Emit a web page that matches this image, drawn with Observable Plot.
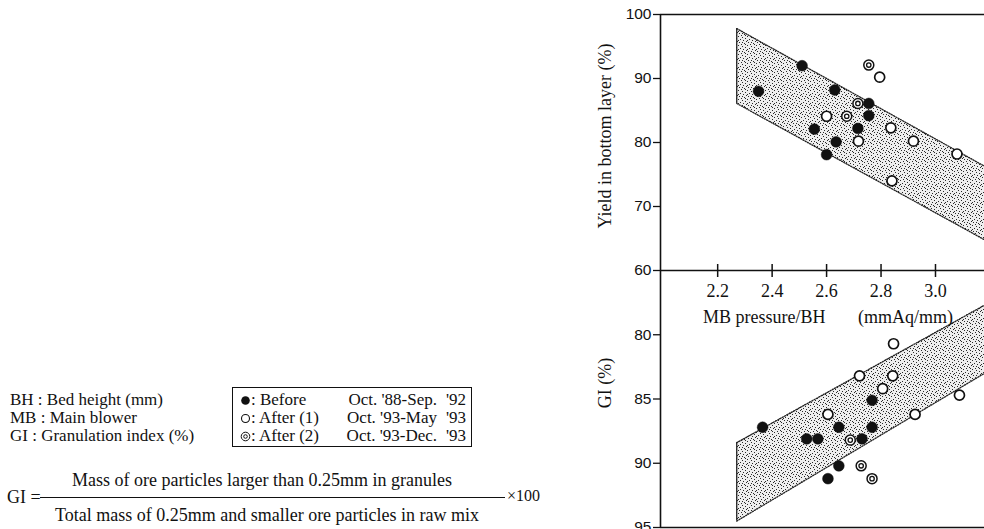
<!DOCTYPE html>
<html><head><meta charset="utf-8">
<script src="https://cdn.jsdelivr.net/npm/d3@7"></script>
<script src="https://cdn.jsdelivr.net/npm/@observablehq/plot@0.6"></script>
<style>
body{margin:0;background:#fff;}
#wrap{position:relative;width:984px;height:529px;overflow:hidden;font-family:"Liberation Serif","DejaVu Serif",serif;color:#111;}
#wrap > svg{position:absolute;left:0;top:0;background:transparent;overflow:hidden;}
.t{position:absolute;white-space:pre;font-size:17px;line-height:18px;font-family:"Liberation Serif","DejaVu Serif",serif;}
.box{position:absolute;border:1.5px solid #111;box-sizing:border-box;}
.sym{position:absolute;}
</style></head><body><div id="wrap"></div>
<script>
// ---- data ----
const xTicks = [2.2, 2.4, 2.6, 2.8, 3.0];
const yieldTicks = [60, 70, 80, 90, 100];
const giTicks = [80, 85, 90, 95];
const xDomain = [1.99, 3.18];

// Yield in bottom layer (%) vs MB pressure/BH
const yieldBefore = [[2.35,88.0],[2.51,92.0],[2.63,88.2],[2.755,86.1],[2.755,84.2],[2.555,82.1],[2.715,82.2],[2.635,80.1],[2.60,78.1]];
const yieldAfter1 = [[2.795,90.2],[2.60,84.1],[2.717,80.2],[2.836,82.3],[2.919,80.2],[3.079,78.2],[2.840,74.0]];
const yieldAfter2 = [[2.755,92.1],[2.715,86.1],[2.674,84.1]];
const yieldBandX = [2.27, 3.18];
const yieldBandHi = [97.8, 76.3];
const yieldBandLo = [86.1, 64.8];

// GI (%) vs MB pressure/BH
const giBefore = [[2.365,87.2],[2.527,88.1],[2.568,88.1],[2.645,87.2],[2.730,88.1],[2.767,85.1],[2.767,87.2],[2.645,90.2],[2.605,91.2]];
const giAfter1 = [[2.846,80.7],[2.721,83.2],[2.843,83.2],[2.806,84.2],[3.088,84.7],[2.605,86.2],[2.925,86.2]];
const giAfter2 = [[2.687,88.2],[2.727,90.2],[2.767,91.2]];
const giBandX = [2.27, 3.18];
const giBandHi = [88.4, 77.7];
const giBandLo = [94.5, 83.0];

const legendKinds = ["filled", "open", "double"];
const legendLabels = [": Before", ": After (1)", ": After (2)"];
const legendPeriods = ["Oct. '88-Sep.", "Oct. '93-May", "Oct. '93-Dec."];
const legendYears = ["'92", "'93", "'93"];
const defs = ["BH : Bed height (mm)", "MB : Main blower", "GI : Granulation index (%)"];

// ---- build ----
const toPts = a => a.map(([x, y]) => ({x, y}));
const band = (xs, hi, lo) => xs.map((x, i) => ({x, hi: hi[i], lo: lo[i]}));
const ink = "#111";
const serif = "Liberation Serif";

function stipple(svg, id) {
  const ns = "http://www.w3.org/2000/svg";
  const d = document.createElementNS(ns, "defs");
  const p = document.createElementNS(ns, "pattern");
  p.setAttribute("id", id); p.setAttribute("width", 9); p.setAttribute("height", 9);
  p.setAttribute("patternUnits", "userSpaceOnUse");
  const bg = document.createElementNS(ns, "rect");
  bg.setAttribute("width", 9); bg.setAttribute("height", 9); bg.setAttribute("fill", "#eeeeee");
  p.appendChild(bg);
  [[0,0],[4,1],[7,2],[2,3],[5,4],[8,5],[1,6],[6,7],[3,8],[7,8],[0,4],[4,6]].forEach(([a, b]) => {
    const r = document.createElementNS(ns, "rect");
    r.setAttribute("x", a); r.setAttribute("y", b); r.setAttribute("width", 1); r.setAttribute("height", 1);
    r.setAttribute("fill", "#2a2a2a");
    p.appendChild(r);
  });
  d.appendChild(p);
  svg.insertBefore(d, svg.firstChild);
}

function markers(before, after1, after2) {
  return [
    Plot.dot(toPts(before), {x: "x", y: "y", r: 5.4, fill: ink, stroke: ink, strokeWidth: 0.5}),
    Plot.dot(toPts(after1), {x: "x", y: "y", r: 5, fill: "white", stroke: ink, strokeWidth: 1.7}),
    Plot.dot(toPts(after2), {x: "x", y: "y", r: 5, fill: "white", stroke: ink, strokeWidth: 1.5}),
    Plot.dot(toPts(after2), {x: "x", y: "y", r: 2.2, fill: "white", stroke: ink, strokeWidth: 1.3})
  ];
}

function bandMarks(b, pid) {
  return [
    Plot.areaY(b, {x: "x", y1: "lo", y2: "hi", fill: `url(#${pid})`}),
    Plot.line(b, {x: "x", y: "hi", stroke: "#222", strokeWidth: 1.3, strokeDasharray: "1.2 1.4"}),
    Plot.line(b, {x: "x", y: "lo", stroke: "#222", strokeWidth: 1.3, strokeDasharray: "1.2 1.4"}),
    Plot.ruleX([b[0]], {x: "x", y1: "lo", y2: "hi", stroke: "#222", strokeWidth: 1.3})
  ];
}

const common = {
  width: 984, height: 529, marginLeft: 660, marginRight: 0,
  style: {background: "transparent", fontFamily: serif, fontSize: "18px", color: ink}
};

const topPlot = Plot.plot({
  ...common, marginTop: 14, marginBottom: 259,
  x: {domain: xDomain},
  y: {domain: [60, 100]},
  marks: [
    ...bandMarks(band(yieldBandX, yieldBandHi, yieldBandLo), "stipA"),
    Plot.ruleY([100], {stroke: ink, strokeWidth: 1.6}),
    Plot.ruleY([60], {stroke: ink, strokeWidth: 1.6}),
    Plot.ruleX([xDomain[0]], {stroke: ink, strokeWidth: 1.6}),
    Plot.axisY({ticks: yieldTicks, tickSize: 7, tickPadding: 2, label: null, fontFamily: "Liberation Sans", fontSize: 15.5, strokeWidth: 1.3}),
    Plot.axisX({ticks: xTicks, tickSize: 7, tickPadding: 7, label: null, tickFormat: d3.format(".1f"), fontFamily: serif, fontSize: 18, strokeWidth: 1.5}),
    ...markers(yieldBefore, yieldAfter1, yieldAfter2)
  ]
});
stipple(topPlot, "stipA");

const botPlot = Plot.plot({
  ...common, marginTop: 270, marginBottom: 2,
  x: {domain: xDomain},
  y: {domain: [75, 95], reverse: true},
  marks: [
    ...bandMarks(band(giBandX, giBandHi, giBandLo), "stipB"),
    Plot.ruleY([95], {stroke: ink, strokeWidth: 1.6}),
    Plot.ruleX([xDomain[0]], {stroke: ink, strokeWidth: 1.6}),
    Plot.axisY({ticks: giTicks, tickSize: 7, tickPadding: 2, label: null, fontFamily: "Liberation Sans", fontSize: 15.5, strokeWidth: 1.3}),
    Plot.axisX({anchor: "top", ticks: xTicks, tickSize: 7, label: null, tickFormat: () => "", strokeWidth: 1.5}),
    ...markers(giBefore, giAfter1, giAfter2)
  ]
});
stipple(botPlot, "stipB");

const wrap = document.getElementById("wrap");
wrap.appendChild(botPlot);
wrap.appendChild(topPlot);

function addText(txt, left, top, extra = "", parent = wrap) {
  const d = document.createElement("div");
  d.className = "t"; d.textContent = txt;
  d.style.cssText = `left:${left}px;top:${top}px;` + extra;
  parent.appendChild(d);
  return d;
}

// axis titles
addText("Yield in bottom layer (%)", 605, 136, "font-size:18px;transform:translate(-50%,-50%) rotate(-90deg);");
addText("GI (%)", 605, 383, "font-size:18px;transform:translate(-50%,-50%) rotate(-90deg);");
addText("MB pressure/BH", 703, 308, "font-size:18px;");
addText("(mmAq/mm)", 858, 308, "font-size:18px;");

// definitions
defs.forEach((s, i) => addText(s, 10, 391 + i * 18));

// legend box
const box = document.createElement("div");
box.className = "box";
Object.assign(box.style, {left: "232px", top: "387px", width: "240px", height: "60px"});
wrap.appendChild(box);
const symSvg = kind => {
  if (kind === "filled") return `<circle cx="5.5" cy="5.5" r="4.3" fill="${ink}"/>`;
  if (kind === "open") return `<circle cx="5.5" cy="5.5" r="4" fill="white" stroke="${ink}" stroke-width="1.1"/>`;
  return `<circle cx="5.5" cy="5.5" r="4.3" fill="white" stroke="${ink}" stroke-width="1"/><circle cx="5.5" cy="5.5" r="1.8" fill="white" stroke="${ink}" stroke-width="1"/>`;
};
legendKinds.forEach((kind, i) => {
  const top = 3 + i * 18;
  const s = document.createElementNS("http://www.w3.org/2000/svg", "svg");
  s.setAttribute("width", 11); s.setAttribute("height", 11); s.setAttribute("class", "sym");
  s.style.left = "7px"; s.style.top = (top + 4) + "px";
  s.innerHTML = symSvg(kind);
  box.appendChild(s);
  addText(legendLabels[i], 18, top, "", box);
  addText(legendPeriods[i], 0, top, "left:auto;right:34px;", box);
  addText(legendYears[i], 213, top, "", box);
});

// formula
addText("GI =", 7, 488, "font-size:18px;");
addText("Mass of ore particles larger than 0.25mm in granules", 262, 471, "font-size:18px;transform:translateX(-50%);");
addText("Total mass of 0.25mm and smaller ore particles in raw mix", 267, 506, "font-size:18px;transform:translateX(-50%);");
const line = document.createElement("div");
Object.assign(line.style, {position: "absolute", left: "40px", top: "497px", width: "465px", height: "0", borderTop: "1.3px solid #111"});
wrap.appendChild(line);
addText("×100", 507, 487, "font-size:16px;");
</script></body></html>
